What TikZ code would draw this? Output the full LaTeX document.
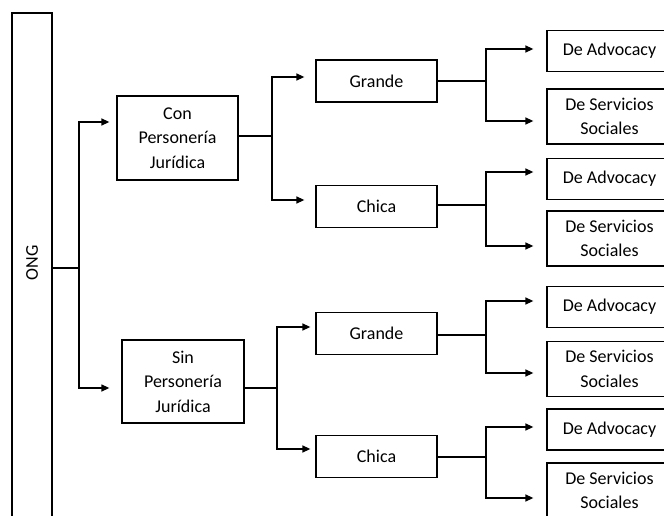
\documentclass[tikz,border=0pt]{standalone}
\usepackage{fontspec}
\setmainfont{Carlito}
\usepackage{tikz}
\usetikzlibrary{positioning,arrows.meta}
\newcommand{\boxfont}{\fontsize{18}{24.5}\selectfont}

\begin{document}
\begin{tikzpicture}[x=1pt, y=-1pt,
  box/.style={draw, line width=1.3pt, align=center, font=\boxfont, inner sep=0pt},
  midbox/.style={box, minimum width=121pt, minimum height=42pt},
  leafbox/.style={box, minimum width=125pt, minimum height=#1},
  conn/.style={line width=1.3pt},
  arr/.style={conn, -{Triangle[length=8pt,width=7pt]}, shorten >=#1},
  arr/.default=9pt]
  \useasboundingbox (0,0) rectangle (664,516);
  \clip (0,0) rectangle (664,516);
  % Nodes
  \node[box, rotate=90, minimum width=520pt, minimum height=40pt] (ong) at (32,273) {\hspace*{20pt}ONG};
  \node[box, minimum width=121pt, minimum height=84pt] (con) at (177.5,138) {Con\\Personería\\Jurídica};
  \node[box, minimum width=122pt, minimum height=83pt] (sin) at (183,381.5) {Sin\\Personería\\Jurídica};
  \node[midbox] (grande1) at (376.5,81) {Grande};
  \node[midbox] (chica1) at (376.5,206.5) {Chica};
  \node[midbox] (grande2) at (376.5,333.5) {Grande};
  \node[midbox] (chica2) at (376.5,456.5) {Chica};
  \foreach \n/\y in {1/51, 2/179, 3/307, 4/429.5} {
    \node[leafbox=41pt] (adv\n) at (609.5,\y) {De Advocacy};
  }
  \foreach \n/\y in {1/116.5, 2/238.5, 3/369, 4/490.5} {
    \node[leafbox=55pt] (soc\n) at (609.5,\y) {De Servicios\\Sociales};
  }
  % Forks
  \coordinate (f0) at (79,268);
  \coordinate (f1) at (272,136);
  \coordinate (f2) at (277,388);
  \coordinate (f3) at (486,81);
  \coordinate (f4) at (486,205);
  \coordinate (f5) at (486,335);
  \coordinate (f6) at (486,457);
  % Edges
  \draw[conn] (ong.south |- f0) -- (f0);
  \draw[arr=7pt] (f0) |- ([yshift=16pt]con.west);
  \draw[arr=12pt] (f0) |- ([yshift=-6.5pt]sin.west);
  \draw[conn] (con.east |- f1) -- (f1);
  \draw[arr=11pt] (f1) |- ([yshift=4pt]grande1.west);
  \draw[arr=11pt] (f1) |- ([yshift=6.5pt]chica1.west);
  \draw[conn] (sin.east |- f2) -- (f2);
  \draw[arr=5pt] (f2) |- ([yshift=6.5pt]grande2.west);
  \draw[arr=5pt] (f2) |- ([yshift=7.5pt]chica2.west);
  \draw[conn] (grande1.east |- f3) -- (f3);
  \draw[arr=13pt] (f3) |- ([yshift=2pt]adv1.west);
  \draw[arr=13pt] (f3) |- ([yshift=-4.5pt]soc1.west);
  \draw[conn] (chica1.east |- f4) -- (f4);
  \draw[arr=13pt] (f4) |- ([yshift=7pt]adv2.west);
  \draw[arr=13pt] (f4) |- ([yshift=-7.5pt]soc2.west);
  \draw[conn] (grande2.east |- f5) -- (f5);
  \draw[arr=13pt] (f5) |- ([yshift=6pt]adv3.west);
  \draw[arr=13pt] (f5) |- ([yshift=-4pt]soc3.west);
  \draw[conn] (chica2.east |- f6) -- (f6);
  \draw[arr=13pt] (f6) |- ([yshift=2.5pt]adv4.west);
  \draw[arr=13pt] (f6) |- ([yshift=-7.5pt]soc4.west);
\end{tikzpicture}
\end{document}
